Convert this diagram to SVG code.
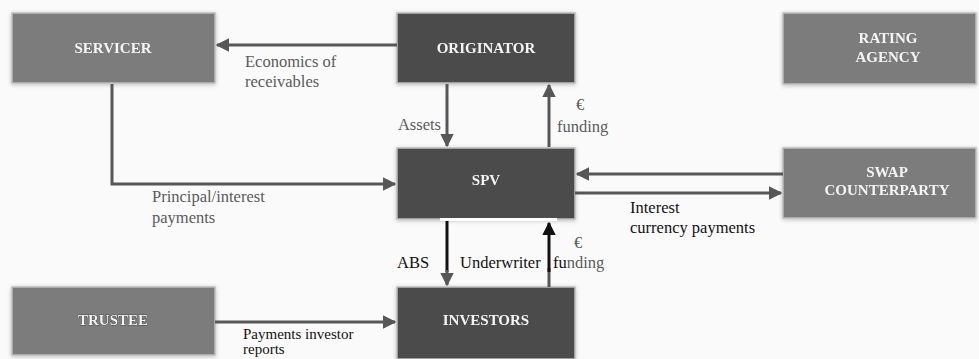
<svg xmlns="http://www.w3.org/2000/svg" width="979" height="359" viewBox="0 0 979 359">
<style>
.box{stroke:#bdbdbd;stroke-width:1.5}
.mid{fill:#7c7c7c}
.dark{fill:#4b4b4b}
.nl{font-family:"Liberation Serif","Times New Roman",serif;font-weight:bold;font-size:15px;fill:#f4f4f4;text-anchor:middle}
.lbl{font-family:"Liberation Serif","Times New Roman",serif;font-size:16.5px;fill:#5a5a5a}
.sm{font-size:15px}
.blk{fill:#111}
.ln{stroke:#575757;stroke-width:3;fill:none}
.lk{stroke:#111;stroke-width:3;fill:none}
</style>
<defs>
<filter id="sh" x="-10%" y="-20%" width="120%" height="140%">
<feGaussianBlur in="SourceAlpha" stdDeviation="2"/>
<feOffset dx="0" dy="1" result="b"/>
<feFlood flood-color="#000" flood-opacity="0.25"/>
<feComposite in2="b" operator="in"/>
<feMerge><feMergeNode/><feMergeNode in="SourceGraphic"/></feMerge>
</filter>
<marker id="ag" viewBox="0 0 10 10" refX="9" refY="5" markerWidth="4.5" markerHeight="4.5" orient="auto" markerUnits="strokeWidth"><path d="M0,0 L10,5 L0,10 z" fill="#575757"/></marker>
<marker id="ak" viewBox="0 0 10 10" refX="9" refY="5" markerWidth="4.5" markerHeight="4.5" orient="auto" markerUnits="strokeWidth"><path d="M0,0 L10,5 L0,10 z" fill="#111"/></marker>
</defs>
<rect width="979" height="359" fill="#fafafa"/>

<g id="servicer" filter="url(#sh)">
<rect class="box mid" x="12" y="13" width="203" height="70"/>
<text class="nl" x="113" y="53">SERVICER</text>
</g>
<g id="originator" filter="url(#sh)">
<rect class="box dark" x="397" y="13" width="178" height="70"/>
<text class="nl" x="486" y="53">ORIGINATOR</text>
</g>
<g id="rating-agency" filter="url(#sh)">
<rect class="box mid" x="783" y="13" width="193" height="71"/>
<text class="nl" x="888" y="43">RATING</text>
<text class="nl" x="888" y="62">AGENCY</text>
</g>
<g id="spv" filter="url(#sh)">
<rect class="box dark" x="397" y="148" width="178" height="71"/>
<text class="nl" x="486" y="185">SPV</text>
</g>
<g id="swap-counterparty" filter="url(#sh)">
<rect class="box mid" x="783" y="148" width="193" height="70"/>
<text class="nl" x="887" y="177">SWAP</text>
<text class="nl" x="887" y="195">COUNTERPARTY</text>
</g>
<g id="trustee" filter="url(#sh)">
<rect class="box mid" x="12" y="287" width="203" height="68"/>
<text class="nl" x="113" y="325" style="stroke:#222;stroke-width:0.6;paint-order:stroke">TRUSTEE</text>
</g>
<g id="investors" filter="url(#sh)">
<rect class="box dark" x="397" y="287" width="178" height="72"/>
<text class="nl" x="486" y="325">INVESTORS</text>
</g>

<g id="connectors">
<line class="ln" x1="397" y1="45" x2="217" y2="45" marker-end="url(#ag)"/>
<polyline class="ln" points="112,84 112,184 395,184" marker-end="url(#ag)"/>
<line class="ln" x1="447" y1="84" x2="447" y2="146" marker-end="url(#ag)"/>
<line class="ln" x1="549" y1="147" x2="549" y2="85" marker-end="url(#ag)"/>
<line class="ln" x1="783" y1="174" x2="577" y2="174" marker-end="url(#ag)"/>
<line class="ln" x1="575" y1="193" x2="781" y2="193" marker-end="url(#ag)"/>
<line class="lk" x1="447" y1="221" x2="447" y2="272"/>
<line class="ln" x1="447" y1="270" x2="447" y2="285" marker-end="url(#ag)"/>
<line class="ln" x1="549" y1="287" x2="549" y2="268"/>
<line class="lk" x1="549" y1="272" x2="549" y2="223" marker-end="url(#ak)"/>
<line class="ln" x1="215" y1="322" x2="395" y2="322" marker-end="url(#ag)"/>
<rect x="440" y="218" width="117" height="3" fill="#fff"/>
</g>

<g id="labels">
<text class="lbl" x="245" y="67">Economics of</text>
<text class="lbl" x="245" y="87">receivables</text>
<text class="lbl" x="152" y="202">Principal/interest</text>
<text class="lbl" x="152" y="223">payments</text>
<text class="lbl" x="441" y="130" text-anchor="end">Assets</text>
<text class="lbl" x="580" y="110" text-anchor="middle">€</text>
<text class="lbl" x="557" y="132">funding</text>
<text class="lbl blk" x="630" y="213">Interest</text>
<text class="lbl blk" x="630" y="233">currency payments</text>
<text class="lbl blk" x="397" y="268">ABS</text>
<text class="lbl blk" x="460" y="268">Underwriter</text>
<text class="lbl" x="578" y="248" text-anchor="middle">€</text>
<text class="lbl" x="553" y="268"><tspan class="blk">fu</tspan>nding</text>
<text class="lbl sm blk" x="243" y="339">Payments investor</text>
<text class="lbl sm blk" x="243" y="354">reports</text>
</g>
</svg>
